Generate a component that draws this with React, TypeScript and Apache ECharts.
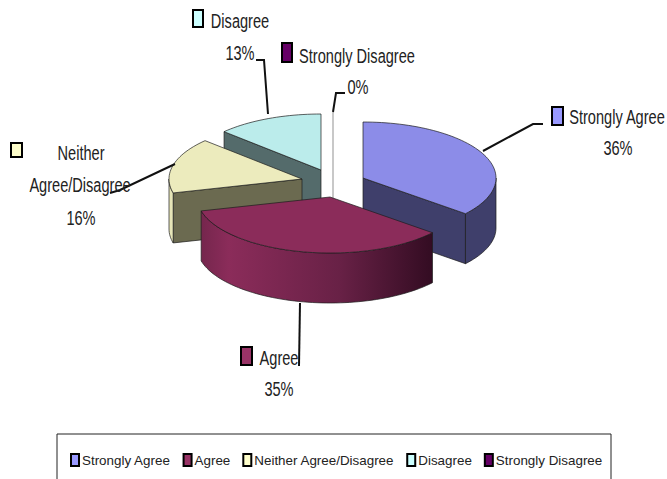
import React, { useEffect, useRef } from "react";
import * as echarts from "echarts";

const categories = ["Strongly Agree", "Agree", "Neither Agree/Disagree", "Disagree", "Strongly Disagree"];
const percents = [36, 35, 16, 13, 0];
const legendColors = ["#9999ff", "#993366", "#ffffcc", "#ccffff", "#660066"];
const topColors = ["#8c8ce8", "#8b2c5a", "#ecebbd", "#bbeceb", "#c8c8c8"];
const faceColors = ["#3f3f6b", "#5a1c3a", "#6b6a50", "#546b6b", "#c8c8c8"];
const apexes = [[363, 178], [330, 197], [302, 179], [321, 170], [333, 168]];
const zOrder = [4, 5, 3, 1, 2];

const RX = 133;
const RY = 56;
const DEPTH = 50;
const FONT = "'Liberation Sans', Arial, sans-serif";

const rad = (d: number) => (d * Math.PI) / 180;
const pt = (c: number[], a: number, dy = 0) => [
  c[0] + RX * Math.sin(rad(a)),
  c[1] - RY * Math.cos(rad(a)) + dy,
];
const arc = (c: number[], a0: number, a1: number, dy = 0) => {
  const n = Math.max(1, Math.ceil(Math.abs(a1 - a0) / 2));
  const out: number[][] = [];
  for (let i = 0; i <= n; i++) out.push(pt(c, a0 + ((a1 - a0) * i) / n, dy));
  return out;
};

const agreeWall = () =>
  new echarts.graphic.LinearGradient(0, 0, 1, 0, [
    { offset: 0, color: "#75264d" },
    { offset: 0.12, color: "#8b2c5a" },
    { offset: 0.6, color: "#682146" },
    { offset: 1, color: "#330c22" },
  ]);

function makeRenderItem(index: number) {
  return (_params: any, api: any) => {
    const value = api.value(0);
    const start = percents.slice(0, index).reduce((s, v) => s + v, 0) * 3.6;
    const end = start + value * 3.6;
    const c = apexes[index];
    const line = { stroke: "#1c1c1c", lineWidth: 0.7, lineJoin: "round" };
    const children: any[] = [];
    if (value === 0) {
      const top = pt(c, end);
      children.push({
        type: "line",
        shape: { x1: top[0], y1: top[1], x2: c[0], y2: c[1] + DEPTH },
        style: { stroke: topColors[index], lineWidth: 2 },
      });
      return { type: "group", children };
    }
    const face = (a: number) => {
      const p = pt(c, a);
      return {
        type: "polygon",
        shape: { points: [c, p, [p[0], p[1] + DEPTH], [c[0], c[1] + DEPTH]] },
        style: { fill: faceColors[index], ...line },
      };
    };
    if (Math.cos(rad(start - 90)) < -0.001) children.push(face(start));
    if (Math.cos(rad(end + 90)) < -0.001) children.push(face(end));
    const w0 = Math.max(start, 90);
    const w1 = Math.min(end, 270);
    if (w1 > w0) {
      const pts = [...arc(c, w0, w1), ...arc(c, w1, w0, DEPTH)];
      children.push({
        type: "polygon",
        shape: { points: pts },
        style: { fill: index === 1 ? agreeWall() : index === 2 ? "#e6e5b8" : faceColors[index], ...line },
      });
    }
    children.push({
      type: "polygon",
      shape: { points: [c, ...arc(c, start, end)] },
      style: { fill: topColors[index], ...line },
    });
    return { type: "group", children };
  };
}

const labelIcons = [[552, 107, 11, 18], [241, 347, 11, 18], [11, 143, 11, 14], [193, 10, 10, 17], [282, 43, 10, 19]];
const labelLines = [
  { x: 617, y: 117, text: categories[0] },
  { x: 618, y: 148, text: `${percents[0]}%` },
  { x: 279, y: 358, text: categories[1] },
  { x: 279, y: 389, text: `${percents[1]}%` },
  { x: 81, y: 153, text: "Neither" },
  { x: 80, y: 185, text: "Agree/Disagree" },
  { x: 81, y: 218, text: `${percents[2]}%` },
  { x: 240, y: 21, text: categories[3] },
  { x: 240, y: 53, text: `${percents[3]}%` },
  { x: 357, y: 56, text: categories[4] },
  { x: 358, y: 87, text: `${percents[4]}%` },
];
const leaders = [
  [[483, 151], [533, 124], [543, 124]],
  [[300, 303], [299, 366]],
  [[175, 164], [120, 190], [110, 193]],
  [[268, 114], [264, 60], [256, 60]],
  [[333, 112], [336, 93], [345, 93]],
];

export default function App() {
  const ref = useRef<HTMLDivElement>(null);
  useEffect(() => {
    const chart = echarts.init(ref.current!, undefined, { renderer: "svg" });
    chart.setOption({
      animation: false,
      backgroundColor: "#ffffff",
      legend: {
        left: 70,
        top: 453,
        padding: 0,
        itemGap: 12,
        itemWidth: 8,
        itemHeight: 12,
        icon: "rect",
        selectedMode: false,
        data: categories,
        itemStyle: { borderColor: "#000000", borderWidth: 2 },
        textStyle: { fontFamily: FONT, fontSize: 13.4, color: "#222222", padding: [0, 0, 0, -2] },
      },
      series: categories.map((name, i) => ({
        type: "custom",
        name,
        coordinateSystem: "none",
        z: zOrder[i],
        silent: true,
        itemStyle: { color: legendColors[i] },
        data: [[percents[i]]],
        renderItem: makeRenderItem(i),
      })),
      graphic: [
        {
          type: "rect",
          shape: { x: 57, y: 434, width: 554, height: 60 },
          style: { fill: "none", stroke: "#222222", lineWidth: 1 },
          z: 8,
        },
        ...leaders.map((points) => ({
          type: "polyline",
          shape: { points },
          style: { fill: "none", stroke: "#111111", lineWidth: 2 },
          z: 9,
        })),
        ...labelIcons.map((r, i) => ({
          type: "rect",
          shape: { x: r[0], y: r[1], width: r[2], height: r[3] },
          style: { fill: legendColors[i], stroke: "#000000", lineWidth: 2 },
          z: 10,
        })),
        ...labelLines.map((l) => ({
          type: "text",
          x: l.x,
          y: l.y,
          scaleX: 0.81,
          scaleY: 1.12,
          style: {
            text: l.text,
            fontFamily: FONT,
            fontSize: 18,
            fill: "#222222",
            align: "center",
            verticalAlign: "middle",
          },
          z: 10,
        })),
      ],
    });
    return () => chart.dispose();
  }, []);
  return <div ref={ref} style={{ position: "absolute", left: 0, top: 0, width: 667, height: 479 }} />;
}
